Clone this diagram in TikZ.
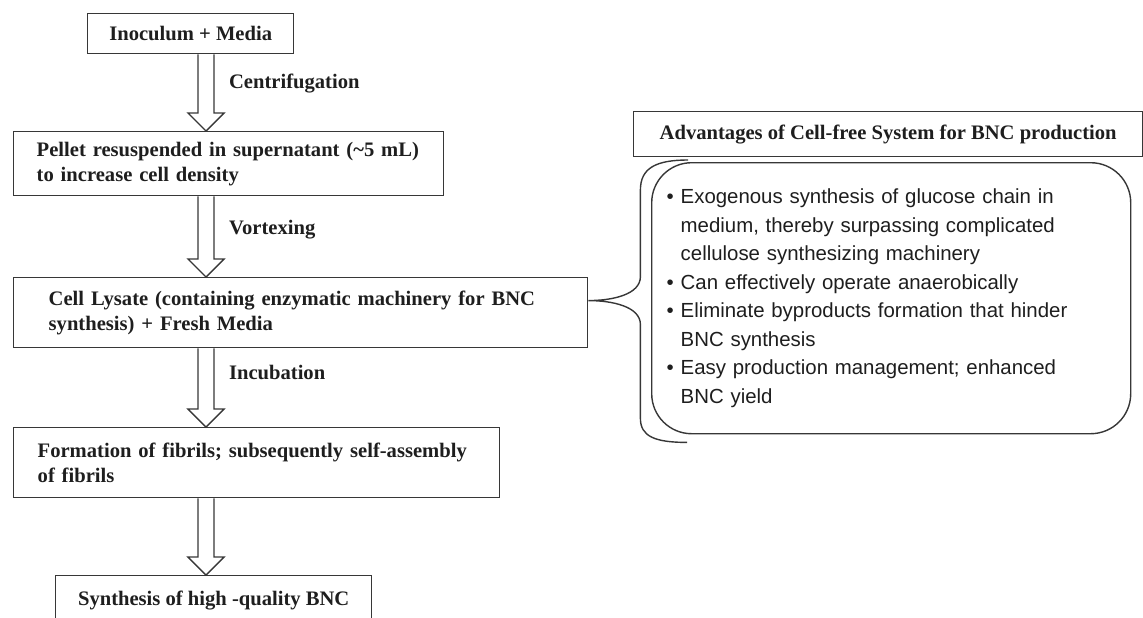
\documentclass[tikz,border=0pt]{standalone}
\usepackage{fontspec}
\setmainfont{Liberation Serif}
\newfontfamily\listfont{Liberation Sans}
\usetikzlibrary{calc,positioning}
\definecolor{BoxLine}{RGB}{55,55,55}
\definecolor{InkDark}{RGB}{30,30,30}

% hollow block arrow from the bottom of #1 to the top of #2, on the column (ax)
\newcommand{\flowarrow}[2]{%
  \draw[blockarr] let \p1=(ax|-#1.south), \p2=(ax|-#2.north) in
    (\x1-4pt,\y1) -- (\x1-4pt,\y2+9pt) -- (\x1-9pt,\y2+9pt) -- (\p2)
    -- (\x1+9pt,\y2+9pt) -- (\x1+4pt,\y2+9pt) -- (\x1+4pt,\y1);}
\newcommand{\advbul}{\makebox[7pt][l]{•}}
\newcommand{\advgap}{\makebox[7pt]{}}

\begin{document}
\begin{tikzpicture}[x=0.5pt,y=-0.5pt,
    stepbox/.style={draw=BoxLine,line width=0.7pt,text=InkDark,anchor=north west,
      font={\bfseries\fontsize{10.3}{12.5}\selectfont},align=left,inner ysep=0pt},
    actlabel/.style={text=InkDark,anchor=west,font={\bfseries\fontsize{10.3}{12.5}\selectfont}},
    blockarr/.style={draw=BoxLine,line width=0.7pt,fill=white,line join=miter},
    advbox/.style={draw=BoxLine,line width=0.7pt,rounded corners=20pt,anchor=north west,
      text=InkDark,font={\listfont\fontsize{10.2}{14.25}\selectfont},align=left}]
  \useasboundingbox (0,0) rectangle (1143,617);
  \coordinate (ax) at (206,0);

  % process column
  \node[stepbox,align=center,minimum width=103pt,minimum height=20pt] (inoc) at (87,13)
    {Inoculum + Media};
  \node[stepbox,minimum height=32pt,text width=192pt,inner xsep=11.5pt] (pellet) at (13,131)
    {Pellet resuspended in supernatant (\textasciitilde5 mL)\\to increase cell density};
  \node[stepbox,minimum height=35pt,text width=252pt,inner xsep=17.5pt] (lysate) at (13,277)
    {Cell Lysate (containing enzymatic machinery for BNC\\synthesis) + Fresh Media};
  \node[stepbox,minimum height=35pt,text width=219pt,inner xsep=12pt] (fibril) at (13,427)
    {Formation of fibrils; subsequently self-assembly\\of fibrils};
  \node[stepbox,align=center,minimum width=158pt,minimum height=25pt] (bnc) at (55,575)
    {Synthesis of high -quality BNC};

  \flowarrow{inoc}{pellet}
  \flowarrow{pellet}{lysate}
  \flowarrow{lysate}{fibril}
  \flowarrow{fibril}{bnc}

  \node[actlabel] (lcentr) at ($(ax|-inoc.south)!0.38!(ax|-pellet.north)+(16,0)$) {Centrifugation};
  \node[actlabel] (lvortex) at ($(ax|-pellet.south)!0.41!(ax|-lysate.north)+(16,0)$) {Vortexing};
  \node[actlabel] (lincub) at ($(ax|-lysate.south)!0.31!(ax|-fibril.north)+(16,0)$) {Incubation};

  % advantages
  \node[stepbox,align=center,minimum width=254.5pt,minimum height=22.5pt] (advhead) at (633,111)
    {Advantages of Cell-free System for BNC production};
  \node[advbox,minimum width=239.5pt,minimum height=135.5pt,text width=224.5pt,inner xsep=7.5pt] (advlist) at (651,162)
    {\advbul Exogenous synthesis of glucose chain in\\
     \advgap medium, thereby surpassing complicated\\
     \advgap cellulose synthesizing machinery\\
     \advbul Can effectively operate anaerobically\\
     \advbul Eliminate byproducts formation that hinder\\
     \advgap BNC synthesis\\
     \advbul Easy production management; enhanced\\
     \advgap BNC yield};

  \coordinate (btip) at ($(lysate.north east)!0.33!(lysate.south east)$);
  \coordinate (btop) at ($(advlist.north west)+(37,-2)$);
  \coordinate (bbot) at ($(advlist.south west)+(36,8)$);
  \draw[BoxLine,line width=0.7pt] let \p1=(btop), \p2=(bbot), \p3=(btip) in
    (\p1) .. controls (\x1-16pt,\y1) and (\x3+26pt,\y1-4pt) .. (\x3+26pt,\y1-15pt)
    -- (\x3+26pt,\y3+12pt) .. controls (\x3+26pt,\y3+3pt) and (\x3+12pt,\y3) .. (\p3)
    .. controls (\x3+12pt,\y3) and (\x3+26pt,\y3-3pt) .. (\x3+26pt,\y3-12pt)
    -- (\x3+26pt,\y2+12pt) .. controls (\x3+26pt,\y2+3pt) and (\x2-16pt,\y2) .. (\p2);
\end{tikzpicture}
\end{document}
